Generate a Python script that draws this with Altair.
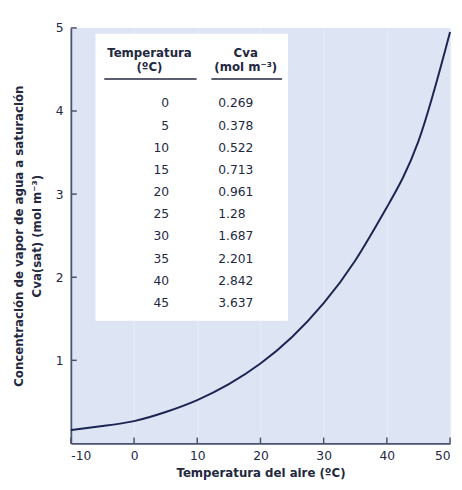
import altair as alt
import pandas as pd

# Curve and table values
curve_t = [-10, -5, 0, 5, 10, 15, 20, 25, 30, 35, 40, 45, 50]
curve_c = [0.16, 0.21, 0.269, 0.378, 0.522, 0.713, 0.961, 1.28, 1.687, 2.201, 2.842, 3.637, 4.95]

table_t = [0, 5, 10, 15, 20, 25, 30, 35, 40, 45]
table_c = ["0.269", "0.378", "0.522", "0.713", "0.961", "1.28", "1.687", "2.201", "2.842", "3.637"]

x_ticks = [-10, 0, 10, 20, 30, 40, 50]
y_ticks = [1, 2, 3, 4, 5]

FONT = "DejaVu Sans"
INK = "#23283f"
AXIS = "#4b5170"
W, H = 386, 423

curve_df = pd.DataFrame({"t": curve_t, "c": curve_c})
table_df = pd.DataFrame({"t": [str(v) for v in table_t], "c": table_c})
xt_df = pd.DataFrame({"v": x_ticks})
yt_df = pd.DataFrame({"v": y_ticks})

xscale = alt.Scale(domain=[-10, 50], nice=False, zero=False)
yscale = alt.Scale(domain=[0, 5], nice=False)

line = alt.Chart(curve_df).mark_line(
    color="#1c2552", strokeWidth=2, interpolate="natural"
).encode(
    x=alt.X("t:Q", scale=xscale,
            axis=alt.Axis(values=x_ticks, title="Temperatura del aire (ºC)",
                          labelExpr="datum.value + ''",
                          grid=True, gridColor="#e6ecf8", gridWidth=1.2,
                          tickSize=0, labelPadding=6, titlePadding=6)),
    y=alt.Y("c:Q", scale=yscale,
            axis=alt.Axis(values=y_ticks, grid=False,
                          title=["Concentración de vapor de agua a saturación",
                                 "Cva(sat) (mol m⁻³)"],
                          tickSize=0, labelPadding=8, titlePadding=12,
                          titleLineHeight=18)),
)

# inward ticks
xticks = alt.Chart(xt_df).mark_rule(color=AXIS, strokeWidth=1.5).encode(
    x=alt.X("v:Q", scale=xscale),
    y=alt.value(H), y2=alt.value(H - 6),
)
yticks = alt.Chart(yt_df).mark_rule(color=AXIS, strokeWidth=1.5).encode(
    y=alt.Y("v:Q", scale=yscale, axis=None),
    x=alt.value(0), x2=alt.value(6),
)

box = alt.Chart(curve_df.head(1)).mark_rect(color="white").encode(
    x=alt.value(25), x2=alt.value(221), y=alt.value(6), y2=alt.value(298)
)

hdr_style = dict(font=FONT, fontSize=12, fontWeight="bold", color=INK,
                 align="center", baseline="middle")
one = curve_df.head(1)
hdr = alt.layer(
    alt.Chart(one).mark_text(text="Temperatura", **hdr_style).encode(
        x=alt.value(80), y=alt.value(26)),
    alt.Chart(one).mark_text(text="(ºC)", **hdr_style).encode(
        x=alt.value(80), y=alt.value(40)),
    alt.Chart(one).mark_text(text="Cva", **hdr_style).encode(
        x=alt.value(178), y=alt.value(26)),
    alt.Chart(one).mark_text(text="(mol m⁻³)", **hdr_style).encode(
        x=alt.value(178), y=alt.value(40)),
    alt.Chart(one).mark_rule(color=INK, strokeWidth=1.3).encode(
        x=alt.value(34), x2=alt.value(128), y=alt.value(52)),
    alt.Chart(one).mark_rule(color=INK, strokeWidth=1.3).encode(
        x=alt.value(143), x2=alt.value(215), y=alt.value(52)),
)

rowscale = alt.Scale(type="point", domain=[str(v) for v in table_t], range=[77, 280], padding=0)
col_t = alt.Chart(table_df).mark_text(
    font=FONT, fontSize=12.5, color=INK, align="right", baseline="middle"
).encode(
    y=alt.Y("t:O", scale=rowscale, axis=None),
    x=alt.value(100), text="t:N",
)
col_c = alt.Chart(table_df).mark_text(
    font=FONT, fontSize=12.5, color=INK, align="left", baseline="middle"
).encode(
    y=alt.Y("t:O", scale=rowscale, axis=None),
    x=alt.value(150), text="c:N",
)

chart = alt.layer(
    line, box, hdr, col_t, col_c, xticks, yticks
).resolve_scale(y="independent").properties(
    width=W, height=H,
    padding={"left": 64, "top": 16, "right": 4, "bottom": 36},
    autosize="none",
    background="white",
).configure_view(
    fill="#dde5f4", stroke=None
).configure_axis(
    domainColor=AXIS, domainWidth=1.8,
    labelFont=FONT, labelFontSize=12.5, labelColor=INK, labelFontWeight="normal",
    titleFont=FONT, titleFontSize=12, titleColor=INK, titleFontWeight="bold",
)

chart.save("out.html", embed_options={"renderer": "svg", "actions": False})
